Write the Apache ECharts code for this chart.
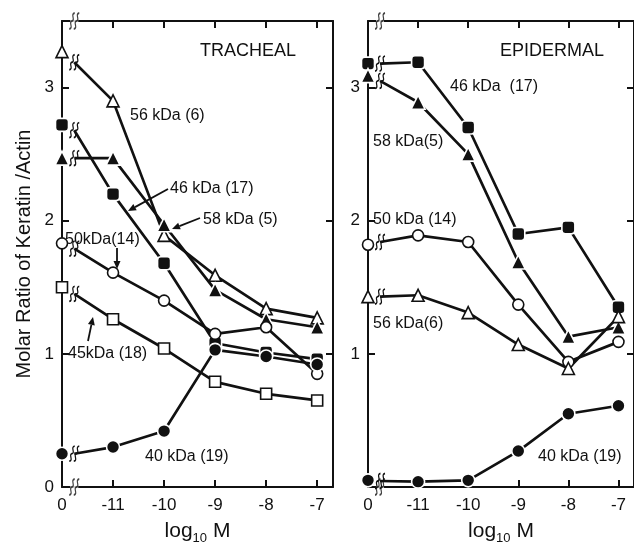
<!DOCTYPE html>
<html lang="en">
<head>
  <meta charset="UTF-8">
  <title>Keratin / Actin</title>
  <script src="https://cdn.jsdelivr.net/npm/echarts@6/dist/echarts.min.js"></script>
  <style>
    html, body { margin: 0; padding: 0; background: #fff; }
  </style>
</head>
<body>
  <div id="echarts" style="width: 634px; height: 550px;"></div>
  <script>
    // x categories (log10 M), first one is the 0 / no-drug point
    const xLabels = ['0', '-11', '-10', '-9', '-8', '-7'];
    const yTicksLeft = [0, 1, 2, 3];
    const yTicksRight = [1, 2, 3];

    // TRACHEAL
    const t56 = [3.27, 2.90, 1.89, 1.59, 1.34, 1.27];
    const t46 = [2.72, 2.20, 1.68, 1.08, 1.01, 0.96];
    const t58 = [2.47, 2.47, 1.97, 1.48, 1.26, 1.20];
    const t50 = [1.83, 1.61, 1.40, 1.15, 1.20, 0.85];
    const t45 = [1.50, 1.26, 1.04, 0.79, 0.70, 0.65];
    const t40 = [0.25, 0.30, 0.42, 1.03, 0.98, 0.92];
    // where each line restarts after the // break
    const tBreak = [3.19, 2.68, 2.47, 1.79, 1.45, 0.25];

    // EPIDERMAL
    const e46 = [3.18, 3.19, 2.70, 1.90, 1.95, 1.35];
    const e58 = [3.09, 2.89, 2.50, 1.69, 1.13, 1.20];
    const e50 = [1.82, 1.89, 1.84, 1.37, 0.94, 1.09];
    const e56 = [1.43, 1.44, 1.31, 1.07, 0.89, 1.28];
    const e40 = [0.05, 0.04, 0.05, 0.27, 0.55, 0.61];
    const eBreak = [3.18, 3.05, 1.84, 1.43, 0.045];

    const FONT = 'Liberation Sans';
    const INK = '#111';
    const X_MAX = 5.31;
    const Y_MAX = 3.5;
    const BX = 0.24; // x position of the // break marks
    const breakPath = 'path://M0,16 C5,15 -1,9 3,8 C7,7 1,1 6,0 M5,16 C10,15 4,9 8,8 C12,7 6,1 11,0';

    function xAxisFor(grid, pos, withLabels) {
      return {
        type: 'value', gridIndex: grid, position: pos, min: 0, max: X_MAX,
        splitLine: { show: false },
        axisLine: { show: true, onZero: false, lineStyle: { color: INK, width: 2 } },
        axisTick: { show: true, inside: true, length: 7, customValues: [1, 2, 3, 4, 5], lineStyle: { color: INK, width: 2 } },
        axisLabel: {
          show: withLabels, customValues: [0, 1, 2, 3, 4, 5], margin: 10,
          formatter: v => xLabels[Math.round(v)], color: INK, fontSize: 17, fontFamily: FONT
        },
        name: withLabels ? '{a|log}{s|10}{a| M}' : '',
        nameLocation: 'middle', nameGap: 34,
        nameTextStyle: {
          rich: {
            a: { fontSize: 21, fontFamily: FONT, color: INK, verticalAlign: 'top' },
            s: { fontSize: 13, fontFamily: FONT, color: INK, verticalAlign: 'top', padding: [11, 0, 0, 0] }
          }
        }
      };
    }

    function yAxisFor(grid, pos, ticks, withLabels, name) {
      return {
        type: 'value', gridIndex: grid, position: pos, min: 0, max: Y_MAX,
        splitLine: { show: false },
        axisLine: { show: true, onZero: false, lineStyle: { color: INK, width: 2 } },
        axisTick: { show: true, inside: true, length: 7, customValues: [1, 2, 3], lineStyle: { color: INK, width: 2 } },
        axisLabel: {
          show: withLabels, customValues: ticks, margin: 8,
          color: INK, fontSize: 17, fontFamily: FONT
        },
        name: name || '', nameLocation: 'middle', nameGap: 28, nameRotate: 90,
        nameTextStyle: { fontSize: 20, fontFamily: FONT, color: INK }
      };
    }

    // marker styles
    const MARK = {
      openTri: { symbol: 'triangle', size: 12, fill: '#fff', border: INK },
      fillTri: { symbol: 'triangle', size: 14, fill: INK, border: '#fff' },
      fillSq: { symbol: 'roundRect', size: 13, fill: INK, border: '#fff' },
      openSq: { symbol: 'rect', size: 11, fill: '#fff', border: INK },
      openCirc: { symbol: 'circle', size: 11, fill: '#fff', border: INK },
      fillCirc: { symbol: 'circle', size: 13, fill: INK, border: '#fff' }
    };

    function line(name, vals, brk, mark, grid) {
      const m = MARK[mark];
      const data = [[0, vals[0]], [BX / 2, '-'], {
        value: [BX, brk], symbol: breakPath, symbolSize: [10, 15],
        itemStyle: { color: 'none', borderColor: INK, borderWidth: 1.5 }
      }];
      for (let i = 1; i < vals.length; i++) data.push([i, vals[i]]);
      return {
        name, type: 'line', xAxisIndex: grid * 2, yAxisIndex: grid * 2,
        data, symbol: m.symbol, symbolSize: m.size, showAllSymbol: true, clip: false,
        lineStyle: { color: INK, width: 2.7 },
        itemStyle: { color: m.fill, borderColor: m.border, borderWidth: 1.6 },
        emphasis: { disabled: true }
      };
    }

    // // marks on top and bottom axes
    function axisBreaks(grid) {
      const pts = [[BX, 0], [BX, Y_MAX]];
      return [{
        type: 'scatter', xAxisIndex: grid * 2, yAxisIndex: grid * 2, clip: false,
        data: pts, symbol: 'rect', symbolSize: [8, 8], itemStyle: { color: '#fff' }, z: 3
      }, {
        type: 'scatter', xAxisIndex: grid * 2, yAxisIndex: grid * 2, clip: false,
        data: pts, symbol: breakPath, symbolSize: [10, 16],
        itemStyle: { color: 'none', borderColor: INK, borderWidth: 1.5 }, z: 4
      }];
    }

    function text(str, x, y, size) {
      return {
        type: 'text', x, y,
        style: { text: str, fontSize: size || 16, fontFamily: FONT, fill: INK, verticalAlign: 'top' }
      };
    }

    function arrow(x1, y1, x2, y2) {
      const a = Math.atan2(y2 - y1, x2 - x1);
      const L = 8, W = 3.5;
      const bx = x2 - L * Math.cos(a), by = y2 - L * Math.sin(a);
      return [{
        type: 'line', shape: { x1, y1, x2: bx, y2: by }, style: { stroke: INK, lineWidth: 1.8 }
      }, {
        type: 'polygon',
        shape: {
          points: [[x2, y2],
          [bx + W * Math.sin(a), by - W * Math.cos(a)],
          [bx - W * Math.sin(a), by + W * Math.cos(a)]]
        },
        style: { fill: INK }
      }];
    }

    const echart = echarts.init(document.getElementById('echarts'), null, { renderer: 'canvas' });

    const options = {
      animation: false,
      backgroundColor: '#fff',
      grid: [
        { left: 62, top: 21, width: 271, height: 472 },
        { left: 368, top: 21, width: 273, height: 472 }
      ],
      xAxis: [
        xAxisFor(0, 'bottom', true), xAxisFor(0, 'top', false),
        xAxisFor(1, 'bottom', true), xAxisFor(1, 'top', false)
      ],
      yAxis: [
        yAxisFor(0, 'left', yTicksLeft, true, 'Molar Ratio of Keratin /Actin'), yAxisFor(0, 'right', [], false),
        yAxisFor(1, 'left', yTicksRight, true), yAxisFor(1, 'right', [], false)
      ],
      series: [
        ...axisBreaks(0), ...axisBreaks(1),
        line('56 kDa (6)', t56, tBreak[0], 'openTri', 0),
        line('46 kDa (17)', t46, tBreak[1], 'fillSq', 0),
        line('58 kDa (5)', t58, tBreak[2], 'fillTri', 0),
        line('50 kDa (14)', t50, tBreak[3], 'openCirc', 0),
        line('45 kDa (18)', t45, tBreak[4], 'openSq', 0),
        line('40 kDa (19)', t40, tBreak[5], 'fillCirc', 0),
        line('46 kDa (17)', e46, eBreak[0], 'fillSq', 1),
        line('58 kDa (5)', e58, eBreak[1], 'fillTri', 1),
        line('50 kDa (14)', e50, eBreak[2], 'openCirc', 1),
        line('56 kDa (6)', e56, eBreak[3], 'openTri', 1),
        line('40 kDa (19)', e40, eBreak[4], 'fillCirc', 1)
      ],
      graphic: [
        text('TRACHEAL', 200, 42, 18),
        text('EPIDERMAL', 500, 42, 18),
        text('56 kDa (6)', 130, 108),
        text('46 kDa (17)', 170, 181),
        text('58 kDa (5)', 203, 212),
        text('50kDa(14)', 65, 232),
        text('45kDa (18)', 68, 346),
        text('40 kDa (19)', 145, 449),
        text('46 kDa  (17)', 450, 79),
        text('58 kDa(5)', 373, 134),
        text('50 kDa (14)', 373, 212),
        text('56 kDa(6)', 373, 316),
        text('40 kDa (19)', 538, 449),
        ...arrow(168, 189, 128, 211),
        ...arrow(200, 218, 172, 229),
        ...arrow(117, 248, 117, 269),
        ...arrow(88, 341, 93, 317)
      ]
    };
    echart.setOption(options);
  </script>
</body>
</html>
